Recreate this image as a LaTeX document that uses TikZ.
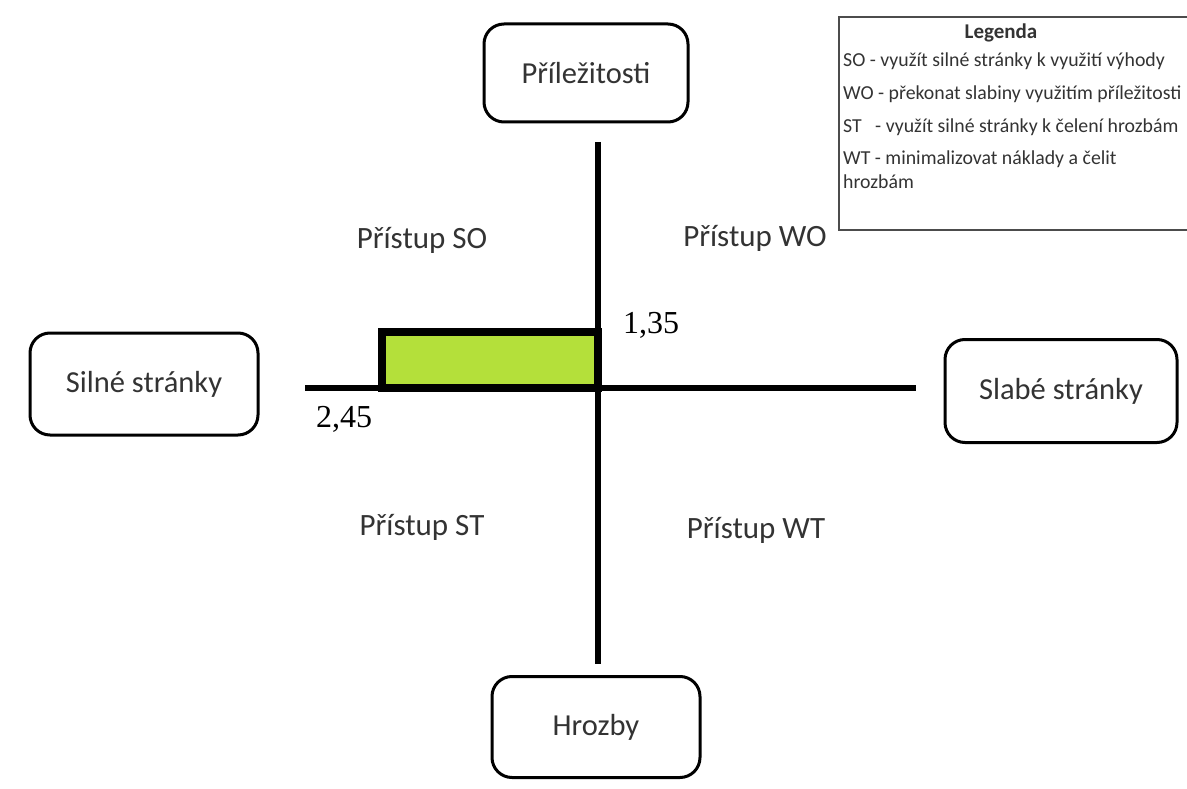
\documentclass[tikz,border=0pt]{standalone}
\usepackage{fontspec}
\setmainfont{Carlito}
\newfontfamily\numfont{Liberation Serif}
\begin{document}
\begin{tikzpicture}[x=1pt,y=-1pt,
  swot/.style={draw=black, line width=3pt, rounded corners=20pt, fill=white, font=\fontsize{30.5}{33}\selectfont, text=black!80},
  axis/.style={line width=5.5pt, black},
  approach/.style={font=\fontsize{31}{34}\selectfont, text=black!80},
  num/.style={font=\numfont\fontsize{32}{35}\selectfont},
  legtext/.style={font=\fontsize{19.8}{22}\selectfont, text=black!80, anchor=west, inner sep=0pt}]
\useasboundingbox (0,0) rectangle (1187,789);
\clip (0,0) rectangle (1187,789);
\fill[white] (0,0) rectangle (1187,789);
% legend
\draw[line width=2pt, black!70] (839,17) rectangle (1200,230);
\node[font=\bfseries\fontsize{21}{24}\selectfont, text=black!80] (legtitle) at (1001,33) {Legenda};
\node[legtext] (l1) at (843,61) {SO - využít silné stránky k využití výhody};
\node[legtext] (l2) at (843,94) {WO - překonat slabiny využitím příležitosti};
\node[legtext] (l3) at (843,127) {ST~~~- využít silné stránky k čelení hrozbám};
\node[legtext] (l4) at (843,159) {WT - minimalizovat náklady a čelit};
\node[legtext] (l5) at (843,182) {hrozbám};
% boxes
\node[swot, minimum width=204pt, minimum height=98pt] (opp) at (586,73) {Příležitosti};
\node[swot, minimum width=228pt, minimum height=102pt] (str) at (144,384) {Silné stránky};
\node[swot, minimum width=232pt, minimum height=103pt] (weak) at (1061,391) {Slabé stránky};
\node[swot, minimum width=208pt, minimum height=101pt] (thr) at (596,727) {Hrozby};
% axes
\coordinate (vt) at (598,142);
\coordinate (vb) at (598,664);
\coordinate (hl) at (305,388);
\coordinate (hr) at (916,388);
\draw[axis] (vt) -- (vb);
\draw[axis] (hl) -- (hr);
% green rectangle
\coordinate (ra) at (382,332);
\coordinate (rb) at (598,388);
\draw[line width=8pt, fill={rgb,255:red,180;green,224;blue,58}] (ra) rectangle (rb);
% labels
\node[approach] (so) at (422,240) {Přístup SO};
\node[approach] (wo) at (755,238) {Přístup WO};
\node[approach] (st) at (422,527) {Přístup ST};
\node[approach] (wt) at (756,530) {Přístup WT};
\node[num] (n1) at (651,325) {1,35};
\node[num] (n2) at (344,419) {2,45};
\end{tikzpicture}
\end{document}
